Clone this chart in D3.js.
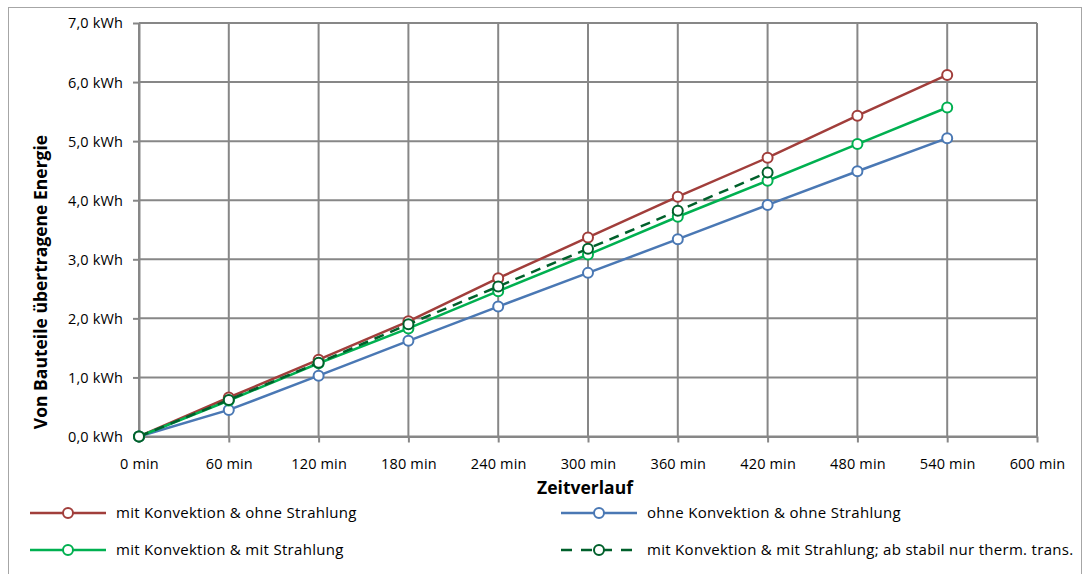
<!DOCTYPE html>
<html>
<head>
<meta charset="utf-8">
<script src="https://cdn.jsdelivr.net/npm/d3@7"></script>
<style>
  html, body { margin: 0; padding: 0; background: #fff; }
  svg { display: block; }
  text { font-family: "Open Sans", "Liberation Sans", sans-serif; fill: #000; }
</style>
</head>
<body>
<svg id="chart" width="1084" height="574"></svg>
<script>
// Zeitpunkte in Minuten
const minutes = [0, 60, 120, 180, 240, 300, 360, 420, 480, 540];

// Übertragene Energie in kWh je Variante
const konvOhneStrahlung = [0, 0.66, 1.30, 1.95, 2.68, 3.37, 4.06, 4.72, 5.43, 6.12];
const ohneKonvOhneStrahlung = [0, 0.45, 1.03, 1.62, 2.20, 2.77, 3.34, 3.92, 4.49, 5.05];
const konvMitStrahlung = [0, 0.61, 1.24, 1.83, 2.46, 3.08, 3.72, 4.33, 4.95, 5.57];
const konvMitStrahlungTherm = [0, 0.62, 1.25, 1.90, 2.54, 3.18, 3.82, 4.47];

const xTicks = [0, 60, 120, 180, 240, 300, 360, 420, 480, 540, 600];
const yTicks = [0, 1, 2, 3, 4, 5, 6, 7];

const seriesNames = [
  "mit Konvektion & ohne Strahlung",
  "ohne Konvektion & ohne Strahlung",
  "mit Konvektion & mit Strahlung",
  "mit Konvektion & mit Strahlung; ab stabil nur therm. trans."
];

const series = [
  { name: seriesNames[0], values: konvOhneStrahlung, color: "#a13e3b", dash: null },
  { name: seriesNames[1], values: ohneKonvOhneStrahlung, color: "#4a78b4", dash: null },
  { name: seriesNames[2], values: konvMitStrahlung, color: "#00b050", dash: null },
  { name: seriesNames[3], values: konvMitStrahlungTherm, color: "#00602b", dash: "10,7" }
];

const svg = d3.select("#chart");

// Rahmen des Diagrammbereichs
svg.append("rect")
  .attr("x", 8.5).attr("y", 7.5)
  .attr("width", 1073).attr("height", 580)
  .attr("fill", "#fff")
  .attr("stroke", "#a6a6a6").attr("stroke-width", 1);

const plot = { left: 139, right: 1037, top: 23, bottom: 436.5 };

const x = d3.scaleLinear().domain([0, 600]).range([plot.left, plot.right]);
const y = d3.scaleLinear().domain([0, 7]).range([plot.bottom, plot.top]);

const gridColor = "#878787";

// Gitternetz
const g = svg.append("g");
g.selectAll(".vgrid").data(xTicks).join("line")
  .attr("x1", d => x(d)).attr("x2", d => x(d))
  .attr("y1", plot.top).attr("y2", plot.bottom)
  .attr("stroke", gridColor).attr("stroke-width", 2);
g.selectAll(".hgrid").data(yTicks).join("line")
  .attr("x1", plot.left).attr("x2", plot.right)
  .attr("y1", d => y(d)).attr("y2", d => y(d))
  .attr("stroke", gridColor).attr("stroke-width", 2);

// Achsen
const fmtY = d => d3.format(".1f")(d).replace(".", ",") + " kWh";
const xAxis = d3.axisBottom(x).tickValues(xTicks).tickSize(6).tickSizeOuter(0)
  .tickFormat(d => d + " min");
const yAxis = d3.axisLeft(y).tickValues(yTicks).tickSize(6).tickSizeOuter(0)
  .tickFormat(fmtY);

const gx = svg.append("g").attr("transform", `translate(0,${plot.bottom})`).call(xAxis);
const gy = svg.append("g").attr("transform", `translate(${plot.left},0)`).call(yAxis);
[gx, gy].forEach(a => {
  a.select(".domain").attr("stroke", gridColor).attr("stroke-width", 2);
  a.selectAll(".tick line").attr("stroke", gridColor).attr("stroke-width", 2);
  a.selectAll(".tick text").attr("font-size", 14.5).attr("fill", "#000")
    .attr("font-family", "'Open Sans', sans-serif")
    .attr("letter-spacing", 0.15);
});
gx.selectAll(".tick text").attr("dy", 0).attr("y", 32);
gy.selectAll(".tick text").attr("x", -16).attr("dy", "0.34em");

// Achsentitel
svg.append("text")
  .attr("x", 585).attr("y", 494)
  .attr("text-anchor", "middle")
  .attr("font-size", 17.5).attr("font-weight", "bold")
  .text("Zeitverlauf");
svg.append("text")
  .attr("transform", "translate(47,282) rotate(-90)")
  .attr("text-anchor", "middle")
  .attr("font-size", 17.5).attr("font-weight", "bold")
  .text("Von Bauteile übertragene Energie");

// Linien und Marker
const line = d3.line().x((d, i) => x(minutes[i])).y(d => y(d));
series.forEach(s => {
  svg.append("path")
    .datum(s.values)
    .attr("d", line)
    .attr("fill", "none")
    .attr("stroke", s.color)
    .attr("stroke-width", 2.5)
    .attr("stroke-dasharray", s.dash);
  svg.append("g").selectAll("circle").data(s.values).join("circle")
    .attr("cx", (d, i) => x(minutes[i]))
    .attr("cy", d => y(d))
    .attr("r", 5)
    .attr("fill", "#fff")
    .attr("stroke", s.color)
    .attr("stroke-width", 2);
});

// Legende
const legendPos = [
  { lx: 30, ty: 513 },
  { lx: 561, ty: 513 },
  { lx: 30, ty: 550 },
  { lx: 561, ty: 550 }
];
series.forEach((s, i) => {
  const p = legendPos[i];
  const lg = svg.append("g");
  lg.append("line")
    .attr("x1", p.lx).attr("x2", p.lx + 76)
    .attr("y1", p.ty).attr("y2", p.ty)
    .attr("stroke", s.color).attr("stroke-width", 2.5)
    .attr("stroke-dasharray", s.dash ? "11,9" : null);
  lg.append("circle")
    .attr("cx", p.lx + 38).attr("cy", p.ty).attr("r", 5)
    .attr("fill", "#fff").attr("stroke", s.color).attr("stroke-width", 2);
  lg.append("text")
    .attr("x", p.lx + 86).attr("y", p.ty)
    .attr("dy", "0.35em")
    .attr("font-size", 15)
    .attr("letter-spacing", 0.3)
    .text(s.name);
});
</script>
</body>
</html>
